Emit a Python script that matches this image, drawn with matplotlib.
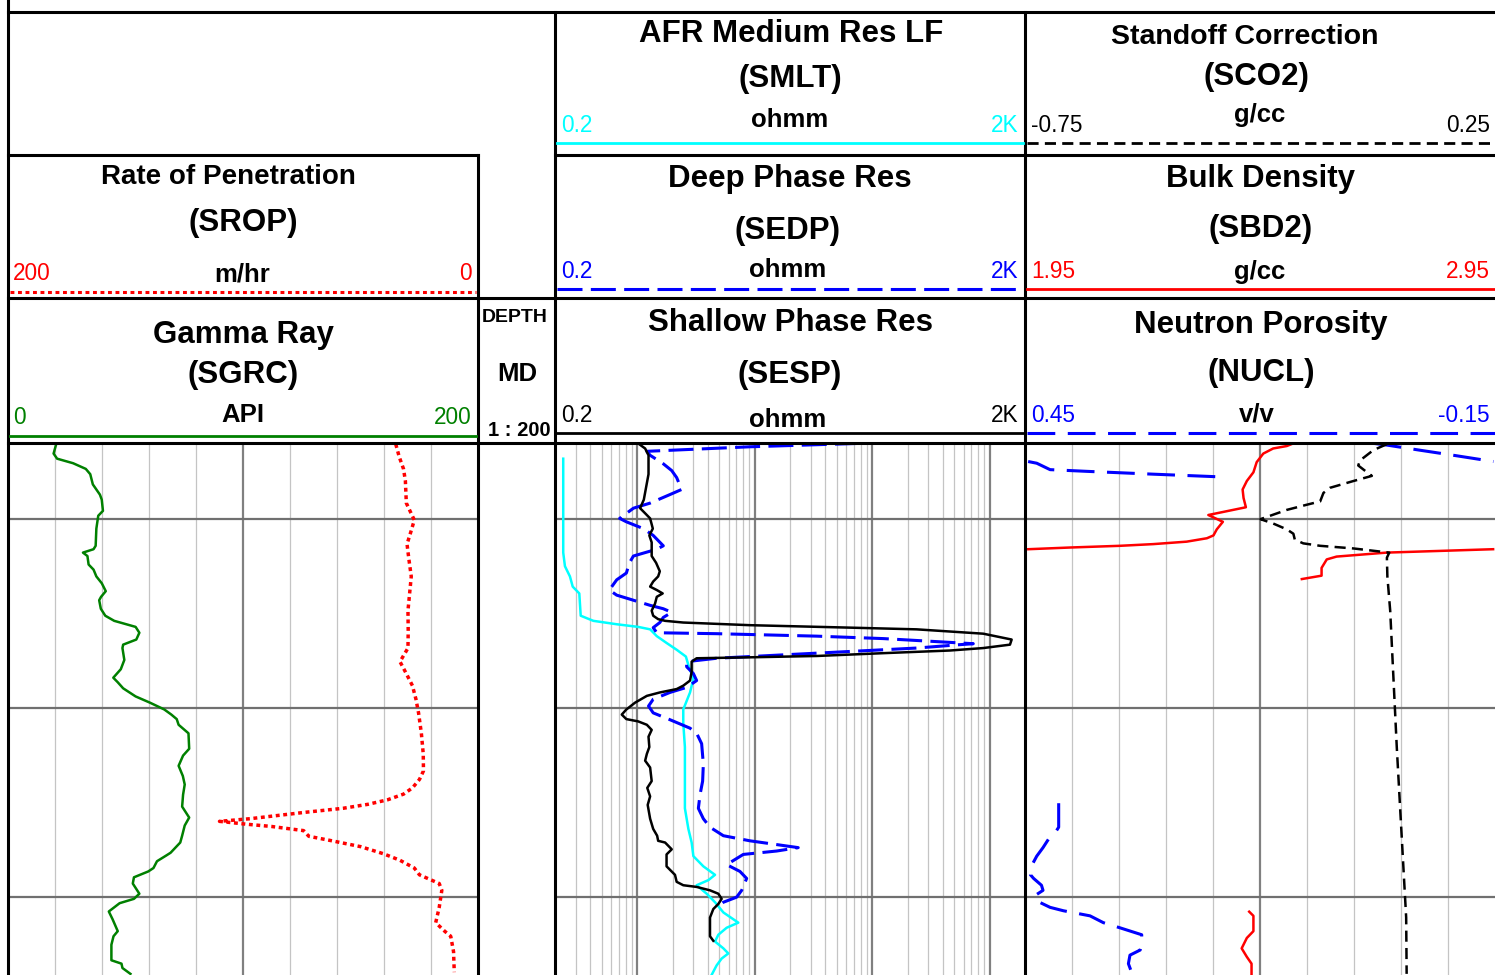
import numpy as np
import matplotlib
matplotlib.use("Agg")
import matplotlib.pyplot as plt
from matplotlib.ticker import NullLocator

plt.rcParams['font.family'] = ['Liberation Sans', 'DejaVu Sans']
plt.rcParams['lines.scale_dashes'] = False

# ---------------- data ----------------
DEPTH_TOP, DEPTH_BOT = 1675.98, 1704.13
grid_depths = [1680, 1690, 1700]

gr_depth = [1676.00, 1676.54, 1676.81, 1677.05, 1677.35, 1677.63, 1678.17, 1678.71, 1678.98, 1679.57,
            1679.83, 1680.51, 1681.42, 1681.60, 1681.78, 1681.96, 1682.41, 1682.68, 1683.04, 1683.40,
            1683.82, 1684.12, 1684.30, 1684.75, 1685.12, 1685.39, 1685.71, 1686.02, 1686.38, 1686.65,
            1686.83, 1687.46, 1687.95, 1688.40, 1688.64, 1688.96, 1689.39, 1689.72, 1690.08, 1690.35,
            1690.59, 1690.89, 1691.34, 1692.16, 1692.52, 1693.06, 1693.60, 1694.05, 1694.59, 1695.22,
            1695.80, 1696.22, 1696.76, 1697.12, 1697.66, 1697.81, 1698.11, 1698.47, 1698.65, 1698.96,
            1699.29, 1699.83, 1700.10, 1700.33, 1700.77, 1701.18, 1701.81, 1702.08, 1702.53, 1703.35,
            1703.53, 1703.76, 1704.07]
gr_api = [20.6, 19.4, 20.9, 27.7, 33.1, 35.0, 36.1, 39.1, 39.9, 40.4,
          38.4, 37.6, 37.3, 36.4, 31.9, 33.8, 34.3, 36.4, 37.6, 39.9,
          41.6, 39.6, 38.8, 39.5, 41.4, 45.2, 54.3, 55.9, 54.6, 49.0,
          48.7, 49.5, 48.0, 44.8, 46.7, 49.0, 54.3, 60.4, 66.5, 69.5,
          71.8, 72.6, 76.8, 77.1, 74.5, 72.6, 74.4, 75.2, 74.5, 74.1,
          77.1, 75.2, 74.1, 73.3, 69.2, 67.3, 63.4, 61.9, 59.7, 53.6,
          53.1, 55.9, 53.6, 47.5, 42.9, 44.5, 46.7, 44.9, 44.0, 44.0,
          48.3, 48.7, 52.1]

rop_depth = [1676.04, 1676.72, 1677.35, 1677.99, 1679.16, 1680.06, 1680.69, 1681.33, 1682.14, 1683.04,
             1683.94, 1684.85, 1685.93, 1686.83, 1687.55, 1688.09, 1688.82, 1689.54, 1690.26, 1691.34,
             1692.43, 1693.33, 1693.78, 1694.23, 1694.56, 1694.86, 1695.10, 1695.31, 1695.53, 1695.86,
             1696.00, 1696.15, 1696.27, 1696.49, 1696.79, 1697.03, 1697.34, 1697.72, 1698.06, 1698.47,
             1698.83, 1699.29, 1699.65, 1700.55, 1701.36, 1701.81, 1702.08, 1702.90, 1703.98]
rop_mhr = [35.0, 33.5, 31.7, 30.9, 30.5, 27.1, 28.6, 30.2, 29.4, 28.4,
           29.1, 29.8, 29.7, 29.8, 33.2, 30.9, 27.9, 26.4, 25.3, 24.1,
           23.3, 23.2, 24.9, 27.9, 31.7, 38.5, 46.9, 57.5, 74.2, 97.0,
           110.0, 98.6, 87.9, 74.2, 72.0, 62.1, 49.9, 40.1, 33.2, 27.1,
           24.9, 16.5, 15.4, 16.5, 18.0, 14.2, 11.6, 10.4, 10.1]

smlt_depth = [1676.81, 1681.78, 1682.50, 1683.04, 1683.58, 1683.94, 1685.12, 1685.39, 1685.57, 1685.71,
              1685.84, 1686.20, 1686.56, 1686.92, 1687.28, 1687.73, 1688.46, 1689.18, 1690.08, 1690.80,
              1692.07, 1693.87, 1695.31, 1696.40, 1697.12, 1697.84, 1698.38, 1698.83, 1699.11, 1699.38,
              1699.83, 1700.28, 1700.82, 1701.36, 1701.63, 1702.00, 1702.36, 1702.72, 1702.99, 1703.26,
              1703.62, 1704.12]
smlt_ohmm = [0.235, 0.235, 0.243, 0.268, 0.283, 0.322, 0.331, 0.424, 0.669, 1.02,
             1.29, 1.47, 1.78, 2.17, 2.60, 2.73, 3.01, 2.82, 2.47, 2.47,
             2.55, 2.55, 2.55, 2.73, 2.91, 3.01, 3.66, 4.60, 4.04, 3.21,
             3.91, 4.60, 5.42, 7.26, 5.78, 4.91, 4.60, 5.42, 5.97, 5.24,
             4.75, 4.31]

sesp_depth = [1676.04, 1676.27, 1676.63, 1677.63, 1678.35, 1678.98, 1679.43, 1679.70, 1679.97, 1680.51,
              1680.87, 1681.24, 1681.96, 1682.32, 1682.77, 1683.04, 1683.31, 1683.58, 1683.76, 1683.94,
              1684.12, 1684.48, 1684.85, 1685.12, 1685.30, 1685.39, 1685.48, 1685.62, 1685.75, 1685.84,
              1686.07, 1686.38, 1686.65, 1686.83, 1686.96, 1687.10, 1687.25, 1687.32, 1687.37, 1687.55,
              1688.09, 1688.55, 1688.82, 1689.00, 1689.18, 1689.36, 1689.72, 1690.08, 1690.35, 1690.59,
              1690.71, 1690.89, 1691.16, 1691.52, 1692.07, 1692.43, 1692.79, 1693.15, 1693.87, 1694.23,
              1694.68, 1695.13, 1695.86, 1696.40, 1696.76, 1697.03, 1697.12, 1697.48, 1697.75, 1698.38,
              1698.83, 1699.20, 1699.38, 1699.47, 1699.65, 1699.83, 1700.10, 1700.37, 1700.64, 1701.09,
              1702.08, 1702.32]
sesp_ohmm = [1.04, 1.17, 1.25, 1.25, 1.19, 1.14, 1.06, 1.17, 1.29, 1.36,
             1.27, 1.33, 1.33, 1.45, 1.56, 1.51, 1.37, 1.29, 1.47, 1.65,
             1.47, 1.42, 1.33, 1.37, 1.51, 1.73, 2.47, 9.13, 64.8, 239,
             883, 1540, 1490, 883, 460, 125, 33.7, 9.13, 3.21, 2.91,
             2.91, 2.82, 2.47, 2.17, 1.56, 1.21, 0.96, 0.81, 0.74, 0.81,
             1.02, 1.21, 1.33, 1.25, 1.27, 1.21, 1.17, 1.29, 1.33, 1.22,
             1.29, 1.23, 1.29, 1.37, 1.48, 1.51, 1.73, 1.97, 1.78, 1.78,
             2.10, 2.17, 2.47, 3.21, 4.17, 4.91, 5.24, 4.91, 4.45, 4.17,
             4.17, 4.45]

sedp_depth = [1676.00, 1676.18, 1676.42, 1676.63, 1677.08, 1677.44, 1677.81, 1678.44, 1678.71, 1679.16,
              1679.43, 1679.97, 1680.15, 1680.51, 1680.87, 1681.42, 1681.60, 1681.96, 1682.32, 1682.86,
              1683.22, 1683.76, 1684.03, 1684.30, 1684.57, 1684.75, 1684.94, 1685.21, 1685.48, 1685.75,
              1686.02, 1686.07, 1686.20, 1686.33, 1686.60, 1686.65, 1686.83, 1687.01, 1687.19, 1687.37,
              1687.55, 1687.82, 1688.18, 1688.55, 1688.91, 1689.18, 1689.54, 1689.90, 1690.26, 1690.62,
              1691.07, 1691.34, 1691.89, 1692.97, 1693.87, 1694.59, 1695.31, 1695.86, 1696.31, 1696.76,
              1697.03, 1697.39, 1697.57, 1697.75, 1698.29, 1698.65, 1699.02, 1699.65, 1700.01, 1700.28,
              1700.55]
sedp_ohmm = [78.9, 9.13, 1.21, 1.29, 1.67, 1.97, 2.17, 2.39, 1.90, 1.29,
             0.93, 0.71, 0.81, 1.13, 1.37, 1.67, 1.47, 0.93, 0.86, 0.81,
             0.67, 0.58, 0.67, 0.93, 1.29, 1.67, 1.97, 1.67, 1.56, 1.37,
             1.47, 4.75, 33.7, 125, 726, 560, 239, 64.8, 17.5, 4.75,
             2.64, 2.64, 3.01, 3.21, 2.64, 1.90, 1.37, 1.25, 1.37, 1.90,
             2.82, 3.21, 3.54, 3.66, 3.61, 3.43, 3.32, 3.66, 4.17, 5.42,
             9.13, 23.5, 15.4, 8.01, 5.78, 7.50, 8.55, 7.76, 7.03, 5.42,
             4.75]

nan = np.nan
nucl_depth = [1676.00, 1676.09, 1676.36, 1676.63, 1676.96, nan,
              1676.96, 1677.05, 1677.39, 1677.48, 1677.63, 1677.77, nan,
              1695.04, 1696.31, 1696.76, 1696.94, 1697.39, 1697.84, 1698.38, 1698.83, 1699.02, 1699.38,
              1699.65, 1699.92, 1700.19, 1700.55, 1700.73, 1701.00, 1701.36, 1701.63, 1702.00, 1702.45,
              1702.81, 1703.08, 1703.53, 1703.98]
nucl_vv = [0.005, -0.012, -0.054, -0.097, -0.148, nan,
           0.446, 0.435, 0.418, 0.371, 0.286, 0.202, nan,
           0.407, 0.407, 0.414, 0.420, 0.427, 0.435, 0.442, 0.443, 0.439, 0.429,
           0.427, 0.437, 0.436, 0.418, 0.401, 0.367, 0.350, 0.329, 0.301, 0.301,
           0.303, 0.316, 0.318, 0.314]

sbd2_depth = [1676.00, 1676.14, 1676.27, 1676.54, 1676.99, 1677.53, 1677.99, 1678.44, 1678.89, 1679.38,
              1679.79, 1680.15, 1680.55, 1680.87, 1681.02, 1681.20, 1681.33, 1681.42, 1681.51, 1681.60, nan,
              1681.60, 1681.78, 1681.99, 1682.14, 1682.59, 1683.00, 1683.18, nan,
              1700.78, 1701.00, 1701.81, 1702.17, 1702.72, 1703.17, 1703.53, 1704.07]
sbd2_gcc = [2.521, 2.507, 2.478, 2.457, 2.443, 2.436, 2.422, 2.413, 2.415, 2.420,
            2.340, 2.371, 2.358, 2.351, 2.337, 2.294, 2.223, 2.152, 2.046, 1.957, nan,
            2.946, 2.719, 2.613, 2.592, 2.581, 2.581, 2.539, nan,
            2.427, 2.436, 2.436, 2.422, 2.411, 2.422, 2.432, 2.432]

sco2_depth = [1676.04, 1676.36, 1676.90, 1677.17, 1677.44, 1677.72, 1677.99, 1678.35, 1678.62, 1679.07,
              1679.25, 1679.52, 1680.01, 1680.24, 1680.55, 1680.78, 1681.09, 1681.29, 1681.42, 1681.56,
              1681.78, 1682.05, 1683.04, 1684.85, 1688.46, 1692.07, 1696.58, 1701.09, 1704.07]
sco2_gcc = [0.020, -0.009, -0.037, -0.041, -0.027, -0.012, -0.051, -0.101, -0.115, -0.122,
            -0.151, -0.193, -0.249, -0.222, -0.193, -0.179, -0.176, -0.158, -0.122, -0.051,
            0.025, 0.020, 0.021, 0.027, 0.034, 0.041, 0.051, 0.061, 0.062]

# ---------------- figure / layout ----------------
W, H = 1495, 975
fig = plt.figure(figsize=(W / 100, H / 100), dpi=100)

GREEN, RED, BLUE, CYAN = '#008000', '#FF0000', '#0000FF', '#00FFFF'
LIGHT, DARK, HGRID = '#c4c4c4', '#808080', '#707070'
DATA_TOP_PX = 443
ROP_DOTS = (0, (2.8, 2.6))
SEDP_DASH = (0, (18, 6))
NUCL_DASH = (0, (20, 9))
SCO2_DASH = (0, (8, 4.5))


def track_axes(x0, x1):
    ax = fig.add_axes([x0 / W, 0, (x1 - x0) / W, (H - DATA_TOP_PX) / H], zorder=1)
    return ax


def clean(ax):
    ax.set_xticks([])
    ax.set_yticks([])
    ax.xaxis.set_minor_locator(NullLocator())
    ax.yaxis.set_minor_locator(NullLocator())
    for s in ax.spines.values():
        s.set_visible(False)


def hgrid(ax):
    for d in grid_depths:
        ax.axhline(d, color=HGRID, lw=1.6, zorder=1)


# Track 1 : GR + ROP
ax1 = track_axes(8, 478)
ax1.set_xlim(0, 200)
ax1.set_ylim(DEPTH_BOT, DEPTH_TOP)
for v in range(20, 200, 20):
    ax1.axvline(v, color=DARK if v == 100 else LIGHT, lw=1.6 if v == 100 else 0.9, zorder=0.5)
hgrid(ax1)
ax1.plot(gr_api, gr_depth, color=GREEN, lw=1.8, zorder=3)
clean(ax1)
ax1b = ax1.twiny()
ax1b.set_xlim(200, 0)
ax1b.plot(rop_mhr, rop_depth, color=RED, lw=2.5, ls=ROP_DOTS, zorder=3)
clean(ax1b)
ax1b.patch.set_visible(False)

# Track 2 : resistivity (log)
ax2 = track_axes(555, 1025)
ax2.set_xscale('log')
ax2.set_xlim(0.2, 2000)
ax2.set_ylim(DEPTH_BOT, DEPTH_TOP)
for dec in [0.1, 1, 10, 100, 1000]:
    for m in range(1, 10):
        v = m * dec
        if 0.2 < v * 1.0001 and v < 1999 and not np.isclose(v, 0.2):
            ax2.axvline(v, color=DARK if m == 1 else LIGHT, lw=1.6 if m == 1 else 0.9, zorder=0.5)
hgrid(ax2)
ax2.plot(smlt_ohmm, smlt_depth, color=CYAN, lw=1.8, zorder=3)
ax2.plot(sedp_ohmm, sedp_depth, color=BLUE, lw=2.2, ls=SEDP_DASH, zorder=3)
ax2.plot(sesp_ohmm, sesp_depth, color='black', lw=1.8, zorder=4)
clean(ax2)

# Track 3 : NUCL + SBD2 + SCO2
ax3 = track_axes(1025, 1495)
ax3.set_xlim(0.45, -0.15)
ax3.set_ylim(DEPTH_BOT, DEPTH_TOP)
for k in range(1, 10):
    v = 0.45 - 0.06 * k
    ax3.axvline(v, color=DARK if k == 5 else LIGHT, lw=1.6 if k == 5 else 0.9, zorder=0.5)
hgrid(ax3)
ax3.plot(nucl_vv, nucl_depth, color=BLUE, lw=2.2, ls=NUCL_DASH, zorder=3)
clean(ax3)
ax3b = ax3.twiny()
ax3b.set_xlim(1.95, 2.95)
ax3b.plot(sbd2_gcc, sbd2_depth, color=RED, lw=1.8, zorder=3)
clean(ax3b)
ax3b.patch.set_visible(False)
ax3c = ax3.twiny()
ax3c.set_xlim(-0.75, 0.25)
ax3c.plot(sco2_gcc, sco2_depth, color='black', lw=1.8, ls=SCO2_DASH, zorder=3)
clean(ax3c)
ax3c.patch.set_visible(False)

# ---------------- header / borders (pixel coordinates) ----------------
hdr = fig.add_axes([0, 0, 1, 1], zorder=10)
hdr.set_xlim(0, W)
hdr.set_ylim(H, 0)
hdr.axis('off')
hdr.patch.set_visible(False)

BLW = 2.2


def seg(x0, y0, x1, y1, **kw):
    kw.setdefault('color', 'black')
    kw.setdefault('lw', BLW)
    hdr.plot([x0, x1], [y0, y1], solid_capstyle='projecting', **kw)


# borders
seg(8, 12, 1495, 12)
seg(8, 155, 478, 155)
seg(555, 155, 1495, 155)
seg(8, 298, 1495, 298)
seg(8, 443, 1495, 443)
seg(8, 0, 8, 975)
seg(478, 155, 478, 975)
seg(555, 12, 555, 975)
seg(1025, 12, 1025, 975)

# legend lines
seg(10, 292, 476, 292, color=RED, lw=2.2, ls=ROP_DOTS)
seg(10, 436, 476, 436, color=GREEN, lw=2.0)
seg(557, 143, 1023, 143, color=CYAN, lw=2.0)
seg(557, 289, 1023, 289, color=BLUE, lw=2.2, ls=SEDP_DASH)
seg(557, 433, 1023, 433, color='black', lw=2.0)
seg(1027, 143, 1495, 143, color='black', lw=2.0, ls=SCO2_DASH)
seg(1027, 289, 1495, 289, color=RED, lw=2.0)
seg(1027, 433, 1495, 433, color=BLUE, lw=2.2, ls=NUCL_DASH)

TS, US, SS = 22.5, 18.5, 16.3
TDY, UDY, SDY = 3, 2, 2


def title(x, y, s, size=TS, dy=TDY, **kw):
    hdr.text(x, y + dy, s, ha='center', va='center', fontsize=size, fontweight='bold', **kw)


def unit(x, y, s):
    title(x, y, s, size=US, dy=UDY)


def scale(x, y, s, color, ha):
    hdr.text(x, y + SDY, s, ha=ha, va='center', fontsize=SS, color=color)


# Track 1 header
title(228, 174, 'Rate of Penetration', size=20)
title(243, 220, '(SROP)')
unit(242, 272, 'm/hr')
scale(13, 272, '200', RED, 'left')
scale(472, 272, '0', RED, 'right')
title(243, 332, 'Gamma Ray')
title(243, 372, '(SGRC)')
unit(243, 413, 'API')
scale(13, 416, '0', GREEN, 'left')
scale(472, 416, '200', GREEN, 'right')

# Depth header
hdr.text(515, 318, 'DEPTH', ha='center', va='center', fontsize=14, fontweight='bold')
unit(517, 372, 'MD')
hdr.text(519, 431, '1 : 200', ha='center', va='center', fontsize=14.5, fontweight='bold')

# Track 2 header
title(791, 31, 'AFR Medium Res LF')
title(790, 76, '(SMLT)')
unit(790, 118, 'ohmm')
scale(561, 123, '0.2', CYAN, 'left')
scale(1019, 123, '2K', CYAN, 'right')
title(790, 176, 'Deep Phase Res')
title(787, 228, '(SEDP)')
unit(788, 268, 'ohmm')
scale(561, 269, '0.2', BLUE, 'left')
scale(1019, 269, '2K', BLUE, 'right')
title(790, 320, 'Shallow Phase Res')
title(790, 372, '(SESP)')
unit(788, 418, 'ohmm')
scale(561, 413, '0.2', 'black', 'left')
scale(1019, 413, '2K', 'black', 'right')

# Track 3 header
title(1245, 34, 'Standoff Correction', size=20.5)
title(1256, 74, '(SCO2)')
unit(1260, 113, 'g/cc')
scale(1031, 123, '-0.75', 'black', 'left')
scale(1490, 123, '0.25', 'black', 'right')
title(1261, 176, 'Bulk Density')
title(1261, 226, '(SBD2)')
unit(1260, 270, 'g/cc')
scale(1031, 269, '1.95', RED, 'left')
scale(1490, 269, '2.95', RED, 'right')
title(1261, 322, 'Neutron Porosity')
title(1261, 370, '(NUCL)')
unit(1257, 412, 'v/v')
scale(1031, 413, '0.45', BLUE, 'left')
scale(1490, 413, '-0.15', BLUE, 'right')

fig.savefig('out.png', dpi=100, facecolor='white')
